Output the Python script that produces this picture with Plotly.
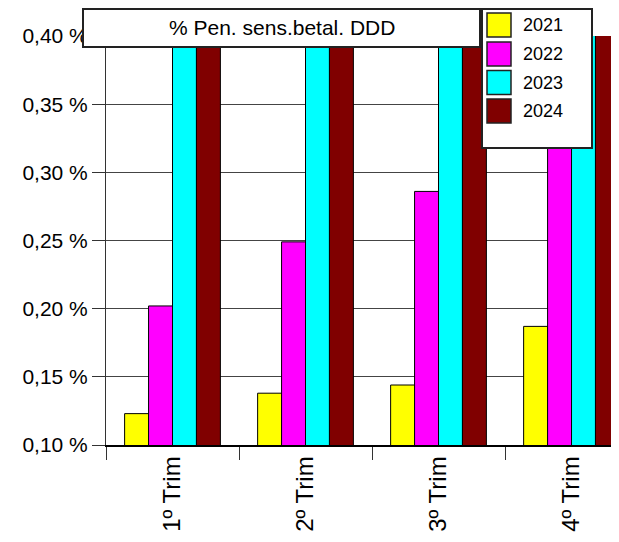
import plotly.graph_objects as go

categories = ["1º Trim", "2º Trim", "3º Trim", "4º Trim"]
years = ["2021", "2022", "2023", "2024"]
colors = ["#FFFF00", "#FF00FF", "#00FFFF", "#800000"]
v2021 = [0.123, 0.138, 0.144, 0.187]
v2022 = [0.202, 0.249, 0.286, 0.330]
v2023 = [0.430, 0.450, 0.460, 0.420]
v2024 = [0.440, 0.460, 0.470, 0.430]
series = [v2021, v2022, v2023, v2024]
y_ticks = [0.10, 0.15, 0.20, 0.25, 0.30, 0.35, 0.40]
y_labels = ["0,10 %", "0,15 %", "0,20 %", "0,25 %", "0,30 %", "0,35 %", "0,40 %"]
title_text = "% Pen. sens.betal. DDD"

# page body has an 8px default margin; compensate so the figure fills the window
OFF = 8
W, H = 619 - OFF, 542 - OFF
L, R, T, B = 106 - OFF, 0, 36 - OFF, 97
PW = W - L - R
PH = H - T - B
FONT = "Liberation Sans, Arial, sans-serif"


def px(x):
    return (x - OFF - L) / PW


def py(y):
    return (H - B - (y - OFF)) / PH


fig = go.Figure()
for name, vals, col in zip(years, series, colors):
    fig.add_trace(go.Bar(
        x=categories, y=vals, name=name,
        marker=dict(color=col, line=dict(color="black", width=1)),
        showlegend=False,
    ))

shapes = []
annotations = []

# title box
shapes.append(dict(type="rect", xref="paper", yref="paper",
                   x0=px(83), x1=px(480), y0=py(47), y1=py(9),
                   fillcolor="white", line=dict(color="#222", width=2), layer="above"))
annotations.append(dict(text=title_text, xref="paper", yref="paper",
                        x=px(281.5), y=py(28), xanchor="center", yanchor="middle",
                        showarrow=False, font=dict(family=FONT, size=21, color="black")))

# legend box
shapes.append(dict(type="rect", xref="paper", yref="paper",
                   x0=px(482), x1=px(592), y0=py(148), y1=py(9),
                   fillcolor="white", line=dict(color="#222", width=2), layer="above"))
sw_top = [13, 42, 70.5, 99]
for i, (name, col) in enumerate(zip(years, colors)):
    t = sw_top[i]
    shapes.append(dict(type="rect", xref="paper", yref="paper",
                       x0=px(487), x1=px(511), y0=py(t + 24), y1=py(t),
                       fillcolor=col, line=dict(color="#222", width=1.5), layer="above"))
    annotations.append(dict(text=name, xref="paper", yref="paper",
                            x=px(521), y=py(t + 12), xanchor="left", yanchor="middle",
                            showarrow=False, font=dict(family=FONT, size=18, color="black")))

fig.update_layout(
    width=W, height=H,
    margin=dict(l=L, r=R, t=T, b=B, pad=0, autoexpand=False),
    paper_bgcolor="white", plot_bgcolor="white",
    barmode="group", bargap=0.28, bargroupgap=0,
    font=dict(family=FONT, size=20, color="black"),
    shapes=shapes, annotations=annotations,
    showlegend=False,
)
fig.update_xaxes(
    type="category", range=[-0.5, 3.357], automargin=False,
    showline=True, linecolor="black", linewidth=1.5,
    ticks="outside", tickson="boundaries", ticklen=13, tickcolor="#333", tickwidth=1,
    tickangle=-90, tickfont=dict(family=FONT, size=24),
    showgrid=False,
)
fig.update_yaxes(
    range=[0.10, 0.40], tickvals=y_ticks, ticktext=y_labels, automargin=False,
    showline=True, linecolor="#333", linewidth=1,
    ticks="outside", ticklen=13, tickcolor="#333", tickwidth=1,
    showgrid=True, gridcolor="#444", gridwidth=1, zeroline=False,
    tickfont=dict(family=FONT, size=21),
)

fig.write_html("out.html")
